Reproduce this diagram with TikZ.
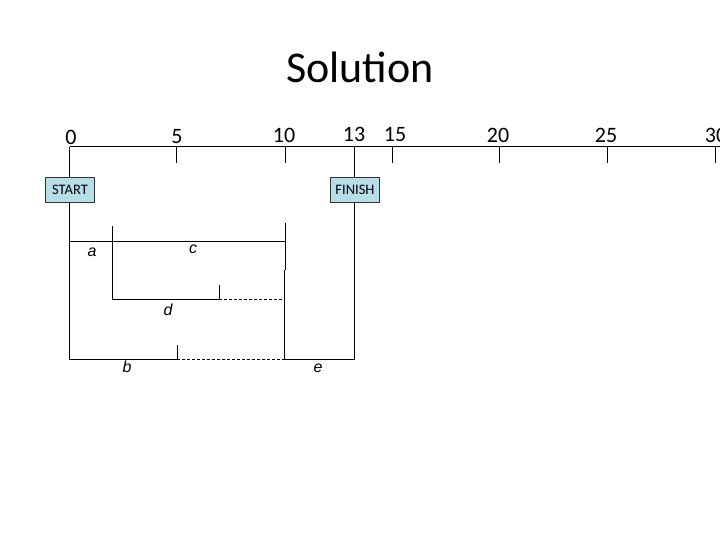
\documentclass[tikz,border=0pt]{standalone}
\usepackage{fontspec}
\setmainfont{Carlito}
\newfontfamily\arialfont{Liberation Sans}
\definecolor{boxfill}{RGB}{183,221,232}
\begin{document}
\begin{tikzpicture}[x=1pt,y=-1pt,
  num/.style={font=\fontsize{22}{22}\selectfont, anchor=base, inner sep=0pt},
  evbox/.style={draw=black!80, line width=0.6pt, fill=boxfill, minimum width=49pt, minimum height=25pt, inner sep=0pt, font=\fontsize{14.5}{14.5}\selectfont},
  act/.style={font=\arialfont\itshape\fontsize{16}{16}\selectfont, inner sep=0pt},
  ln/.style={line width=1pt},
  dsh/.style={line width=0.8pt, dash pattern=on 3pt off 2pt}]
\useasboundingbox (0,0) rectangle (720,540);
\node[font=\fontsize{44}{44}\selectfont, inner sep=0pt] (title) at (360,67) {Solution};
% axis
\coordinate (a0) at (69.5,147);
\coordinate (aend) at (722,147);
\draw[ln] (a0) -- (aend);
\foreach \x in {176, 285, 392.5, 499, 607, 715}{
  \draw[ln] (\x,147) -- (\x,163);
}
\node[num] (l0) at (71,144.5) {0};
\node[num] (l5) at (177,143.5) {5};
\node[num] (l10) at (284,142.5) {10};
\node[num] (l13) at (354,142) {13};
\node[num] (l15) at (395,142) {15};
\node[num] (l20) at (498,142.5) {20};
\node[num] (l25) at (606,142.5) {25};
\node[num] (l30) at (716,142.5) {30};
% events
\node[evbox] (start) at (70,189.5) {START};
\node[evbox] (finish) at (355,189.5) {FINISH};
\coordinate (t13) at (354,147);
\draw[ln] (a0) -- (start.north -| a0);
\draw[ln] (t13) -- (finish.north -| t13);
% activity lines
\coordinate (bl) at (69.5,359);
\coordinate (b5) at (177,359);
\coordinate (b10) at (285,359);
\coordinate (b13) at (354,359);
\draw[ln] (start.south -| a0) -- (bl) -- (b5);
\draw[ln] (b5) -- (177,345);
\draw[dsh] (b5) -- (b10);
\draw[ln] (b10) -- (b13) -- (finish.south -| b13);
% c
\coordinate (c0) at (69.5,241);
\coordinate (c10) at (285,241);
\draw[ln] (c0) -- (c10);
\draw[ln] (285,223) -- (285,270);
\draw[ln] (284.5,270) -- (284.5,359);
% d
\coordinate (d0) at (112.7,299);
\coordinate (d5) at (219.3,299);
\draw[ln] (112.7,226.5) -- (d0) -- (d5) -- (219.3,285);
\draw[dsh] (d5) -- (284.5,299);
% labels
\node[act] (la) at (92,252) {a};
\node[act] (lc) at (193,249) {c};
\node[act] (ld) at (168,310) {d};
\node[act] (lb) at (127,367) {b};
\node[act] (le) at (318,368) {e};
\end{tikzpicture}
\end{document}
